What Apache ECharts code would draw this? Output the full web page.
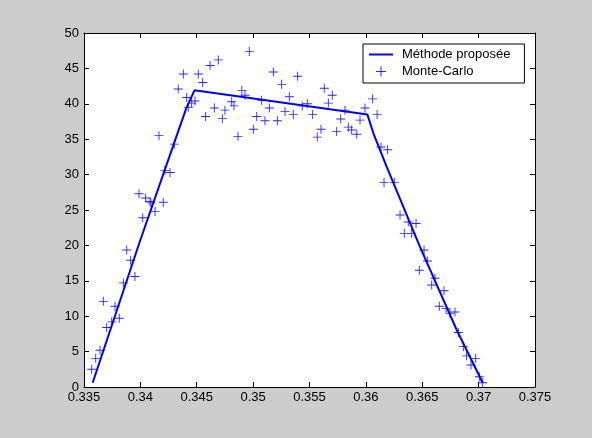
<!DOCTYPE html>
<html>
<head>
<meta charset="utf-8">
<script src="https://cdn.jsdelivr.net/npm/echarts@6/dist/echarts.min.js"></script>
<style>
html,body{margin:0;padding:0;background:#cccccc;}
#c{width:592px;height:438px;}
</style>
</head>
<body>
<div id="c"></div>
<script>
// Line: "Méthode proposée"
var lineX = [0.33577, 0.3399, 0.3432, 0.3441, 0.3448, 0.36013, 0.36072, 0.36185, 0.3648, 0.36806, 0.37036];
var lineY = [0.6, 20.3, 35.4, 39.5, 41.9, 38.5, 35.6, 31.1, 19.8, 8.05, 0.6];

// Scatter: "Monte-Carlo"
var mcX = [0.33568, 0.33604, 0.33642, 0.33701, 0.33746, 0.33813, 0.33775, 0.33671, 0.33849, 0.33952, 0.33914, 0.33879,
  0.34021, 0.3413, 0.34085, 0.34203, 0.34094, 0.34047, 0.33988, 0.34263, 0.34218, 0.34301, 0.34165,
  0.34425, 0.34455, 0.34484, 0.34411, 0.34336, 0.34553, 0.34514, 0.34381, 0.34618, 0.34691, 0.34966,
  0.34579, 0.34656, 0.3475, 0.34727, 0.3483, 0.3481, 0.34928, 0.3490, 0.34866, 0.35002, 0.35032,
  0.35179, 0.35395, 0.35253, 0.35631, 0.35702, 0.35321, 0.3606, 0.35076, 0.35667, 0.35481, 0.35436,
  0.35144, 0.35992, 0.35283, 0.35356, 0.35815, 0.35528, 0.3610, 0.35948, 0.35105, 0.35215, 0.35777,
  0.35602, 0.35844, 0.35741, 0.35874, 0.35919, 0.35569, 0.36134, 0.36193, 0.36161, 0.36252,
  0.36303, 0.36376, 0.36445, 0.36341, 0.36406, 0.36516, 0.36545, 0.36474, 0.36613, 0.36584, 0.36693,
  0.36651, 0.36711, 0.3679, 0.36746, 0.3682, 0.36864, 0.36894, 0.36974, 0.36932, 0.37006, 0.37036];
var mcY = [2.5, 4.05, 5.2, 8.4, 9.2, 9.7, 11.4, 12.1, 14.7, 15.6, 17.9, 19.35,
  23.9, 24.8, 26.2, 26.1, 26.0, 26.7, 27.3, 30.3, 30.6, 34.3, 35.5,
  39.5, 40.1, 40.4, 40.9, 42.1, 43.0, 44.2, 44.2, 45.4, 46.2, 47.4,
  38.2, 39.4, 39.1, 37.9, 39.7, 40.3, 41.2, 41.9, 35.4, 36.4, 38.2,
  44.5, 43.9, 42.75, 42.2, 41.2, 41.0, 40.7, 40.5, 40.1, 40.0, 39.7,
  39.4, 39.4, 38.9, 38.5, 39.1, 38.5, 38.5, 37.7, 37.6, 37.6, 37.85,
  36.4, 36.7, 36.1, 36.3, 35.7, 35.3, 33.9, 33.5, 28.9, 28.9,
  24.3, 23.3, 23.1, 21.7, 21.7, 19.35, 17.8, 16.5, 15.35, 14.4, 13.6,
  11.4, 11.1, 10.6, 10.4, 7.7, 5.7, 4.4, 4.05, 3.1, 1.45, 0.6];

var seriesNames = ['Méthode proposée', 'Monte-Carlo'];

function zip(a, b) { var r = []; for (var i = 0; i < a.length; i++) r.push([a[i], b[i]]); return r; }

var plusPath = 'path://M0,4.5H10V5.5H0Z M4.5,0H5.5V10H4.5Z';
var linePath = 'path://M0,0H24V2H0Z';
var font = 'Liberation Sans, Arial, Helvetica, sans-serif';
var blue = '#0000ff';

var chart = echarts.init(document.getElementById('c'), null, {renderer: 'canvas'});

function xAx(pos, showLabel) {
  return {
    type: 'value', position: pos, min: 0.335, max: 0.375, interval: 0.005,
    axisLine: {show: true, onZero: false, lineStyle: {color: '#000', width: 1}},
    axisTick: {show: true, inside: true, length: 5, lineStyle: {color: '#000'}},
    axisLabel: {show: showLabel, color: '#000', fontFamily: font, fontSize: 13, margin: 4,
      formatter: function (v) { return String(+v.toFixed(3)); }},
    splitLine: {show: false}
  };
}
function yAx(pos, showLabel) {
  return {
    type: 'value', position: pos, min: 0, max: 50, interval: 5,
    axisLine: {show: true, onZero: false, lineStyle: {color: '#000', width: 1}},
    axisTick: {show: true, inside: true, length: 5, lineStyle: {color: '#000'}},
    axisLabel: {show: showLabel, color: '#000', fontFamily: font, fontSize: 13, margin: 5},
    splitLine: {show: false}
  };
}

chart.setOption({
  animation: false,
  backgroundColor: '#cccccc',
  grid: {left: 84, top: 33, width: 451, height: 354, show: true, backgroundColor: '#ffffff', borderWidth: 0},
  xAxis: [xAx('bottom', true), xAx('top', false)],
  yAxis: [yAx('left', true), yAx('right', false)],
  legend: {
    left: 363, top: 44, orient: 'vertical',
    backgroundColor: '#ffffff', borderColor: '#000', borderWidth: 1, borderRadius: 0,
    padding: [4, 14, 5, 6], itemGap: 4, itemWidth: 24, itemHeight: 10,
    textStyle: {color: '#000', fontFamily: font, fontSize: 13, padding: [0, 0, 0, 4], lineHeight: 13},
    data: [
      {name: seriesNames[0], icon: linePath, itemStyle: {color: blue}},
      {name: seriesNames[1], icon: plusPath, itemStyle: {color: blue}}
    ]
  },
  series: [
    {
      name: seriesNames[0], type: 'line', data: zip(lineX, lineY),
      showSymbol: false, symbol: 'none', color: blue,
      lineStyle: {color: blue, width: 2}
    },
    {
      name: seriesNames[1], type: 'scatter', data: zip(mcX, mcY),
      symbol: plusPath, symbolSize: 9, color: blue,
      itemStyle: {color: blue, opacity: 0.85}
    }
  ]
});
</script>
</body>
</html>
